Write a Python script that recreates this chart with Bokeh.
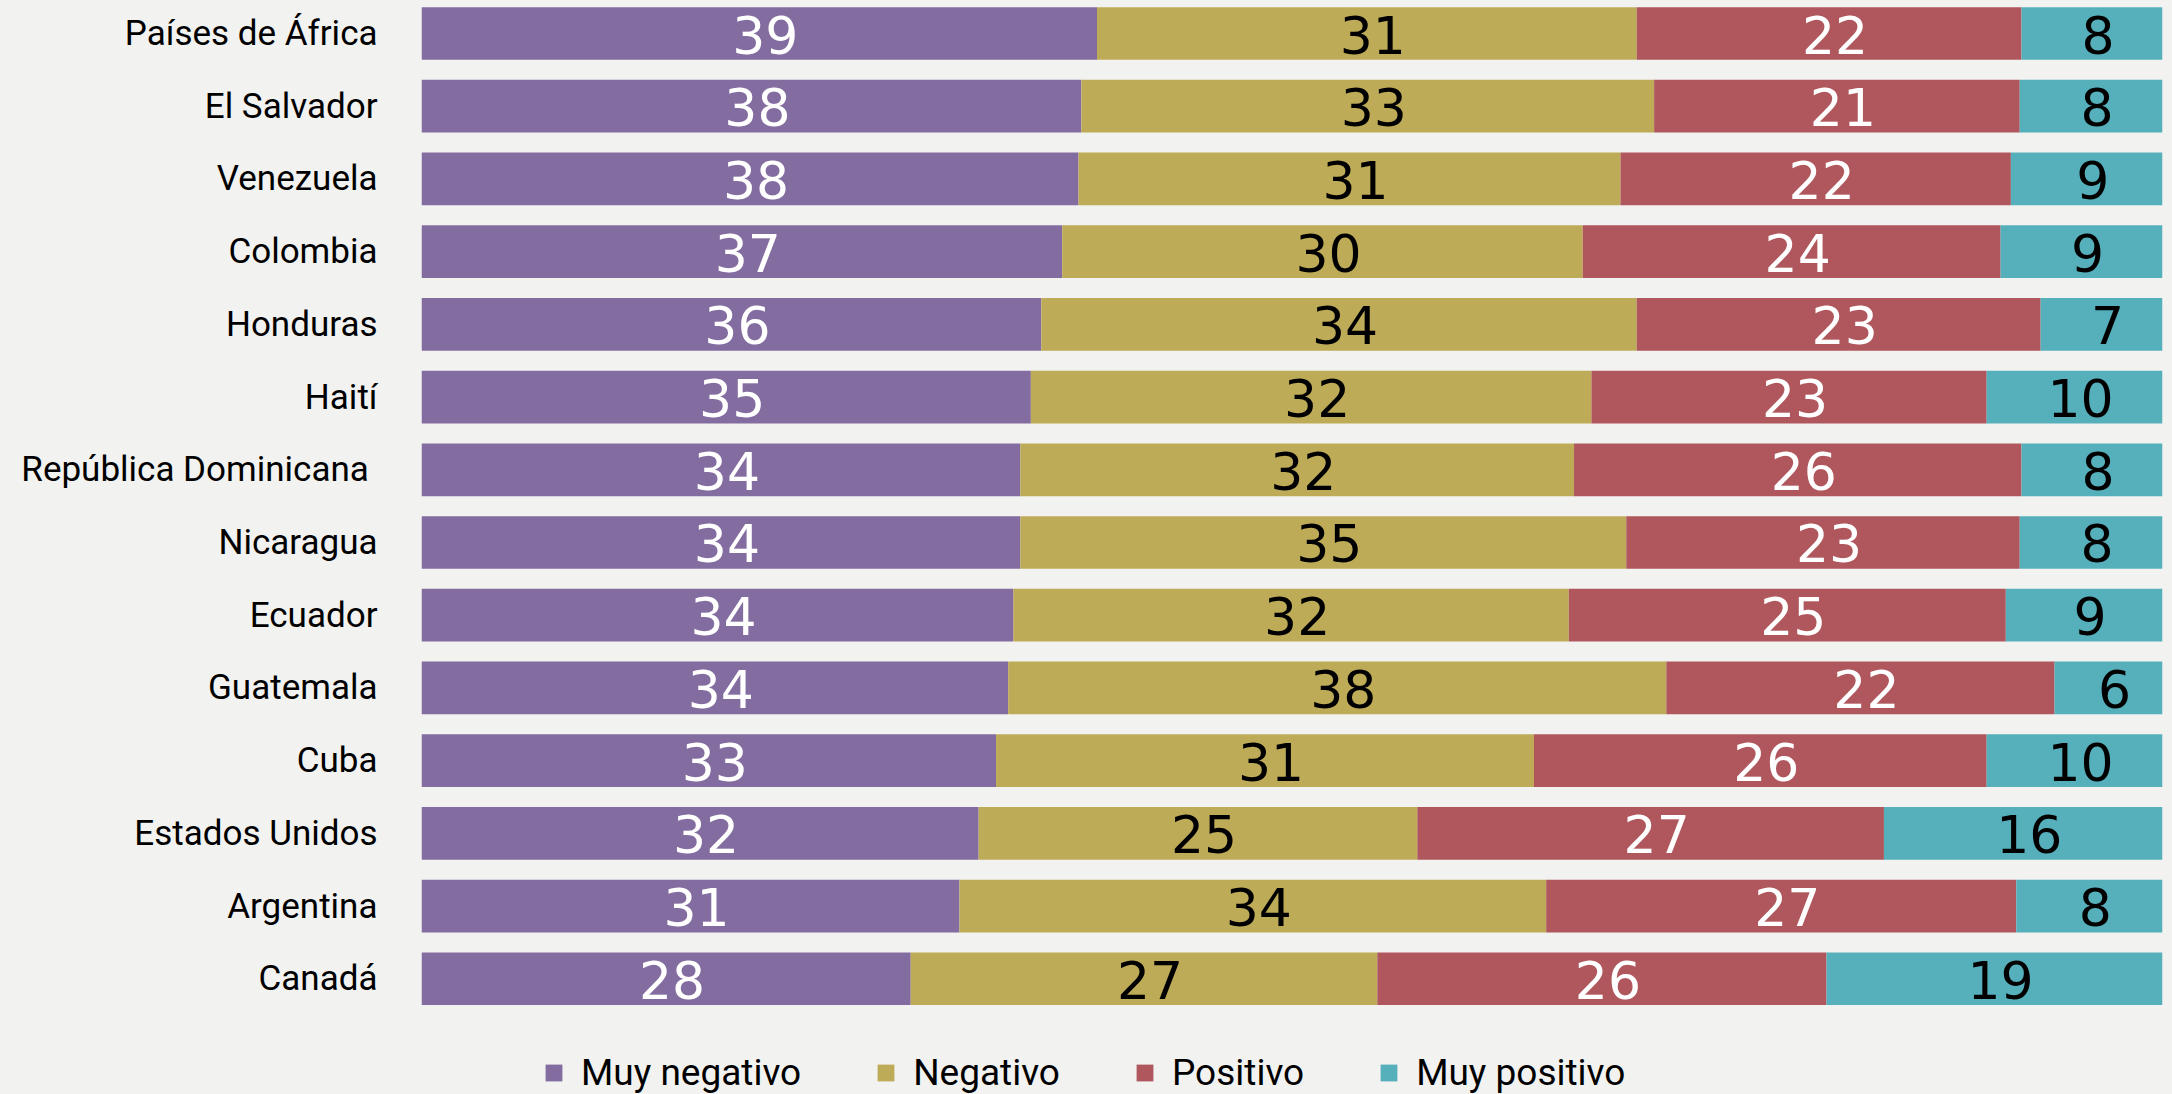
import numpy as np
from bokeh.plotting import figure
from bokeh.models import ColumnDataSource, FixedTicker, Range1d, Legend, LegendItem
from bokeh.embed import file_html
from bokeh.resources import INLINE
from bokeh.core.properties import value

countries = ["Países de África", "El Salvador", "Venezuela", "Colombia", "Honduras",
             "Haití", "República Dominicana\u00a0", "Nicaragua", "Ecuador", "Guatemala",
             "Cuba", "Estados Unidos", "Argentina", "Canadá"]
muy_negativo = [38.8, 37.9, 37.7, 36.8, 35.6, 35.0, 34.4, 34.4, 34.0, 33.7, 33.0, 32.0, 30.9, 28.1]
negativo     = [31.0, 32.9, 31.1, 29.9, 34.2, 32.2, 31.8, 34.8, 31.9, 37.8, 30.9, 25.2, 33.7, 26.8]
positivo     = [22.1, 21.0, 22.4, 24.0, 23.2, 22.7, 25.7, 22.6, 25.1, 22.3, 26.0, 26.8, 27.0, 25.8]
muy_positivo = [8.1, 8.2, 8.7, 9.3, 7.0, 10.1, 8.1, 8.2, 9.0, 6.2, 10.1, 16.0, 8.4, 19.3]

series_names = ["Muy negativo", "Negativo", "Positivo", "Muy positivo"]
series_colors = ["#836C9F", "#BEAB57", "#AF575D", "#56B0BC"]
label_colors = ["#FFFFFF", "#000000", "#FFFFFF", "#000000"]

BG = "#F2F2F0"

data = np.array([muy_negativo, negativo, positivo, muy_positivo], dtype=float)
totals = data.sum(axis=0)
shares = data / totals * 100.0
rights = np.cumsum(shares, axis=0)
lefts = rights - shares
ypos = list(range(len(countries)))

p = figure(width=2172, height=1094, output_backend="svg", toolbar_location=None,
           x_range=Range1d(0, 100), y_range=Range1d(14.592, -0.454),
           x_axis_location=None, min_border_left=421, min_border_right=10,
           min_border_top=0, min_border_bottom=0,
           background_fill_color=BG, border_fill_color=BG)
p.outline_line_color = None
p.grid.visible = False

items = []
for k, name in enumerate(series_names):
    src = ColumnDataSource(dict(
        y=ypos, left=lefts[k], right=rights[k],
        xc=(lefts[k] + rights[k]) / 2.0,
        label=[str(int(round(v))) for v in data[k]],
    ))
    r = p.hbar(y="y", left="left", right="right", height=0.725, source=src,
               fill_color=series_colors[k], line_color=None)
    p.text(x="xc", y="y", text="label", source=src, text_align="center",
           text_baseline="middle", text_font=value("DejaVu Sans"),
           text_font_size="52px", text_color=label_colors[k], x_offset=6, y_offset=1)
    items.append(LegendItem(label=name, renderers=[r]))

ax = p.yaxis[0]
ax.ticker = FixedTicker(ticks=ypos)
ax.major_label_overrides = {i: c for i, c in enumerate(countries)}
ax.axis_line_color = None
ax.major_tick_line_color = None
ax.minor_tick_line_color = None
ax.major_tick_out = 0
ax.major_tick_in = 0
ax.major_label_standoff = 44
ax.major_label_text_font = "Roboto"
ax.major_label_text_font_size = "35px"
ax.major_label_text_color = "#000000"

legend = Legend(items=items, location=(122, 0), orientation="horizontal",
                glyph_width=21, glyph_height=21, label_standoff=17, spacing=74,
                padding=0, margin=0, border_line_color=None, background_fill_alpha=0,
                label_text_font="Roboto", label_text_font_size="37px",
                label_text_color="#000000")
p.add_layout(legend)

html = file_html(p, INLINE)
i = html.rfind("<body")
if i >= 0:
    html = html[:i] + '<body style="background-color:%s;"' % BG + html[i + 5:]
with open("out.html", "w") as f:
    f.write(html)
